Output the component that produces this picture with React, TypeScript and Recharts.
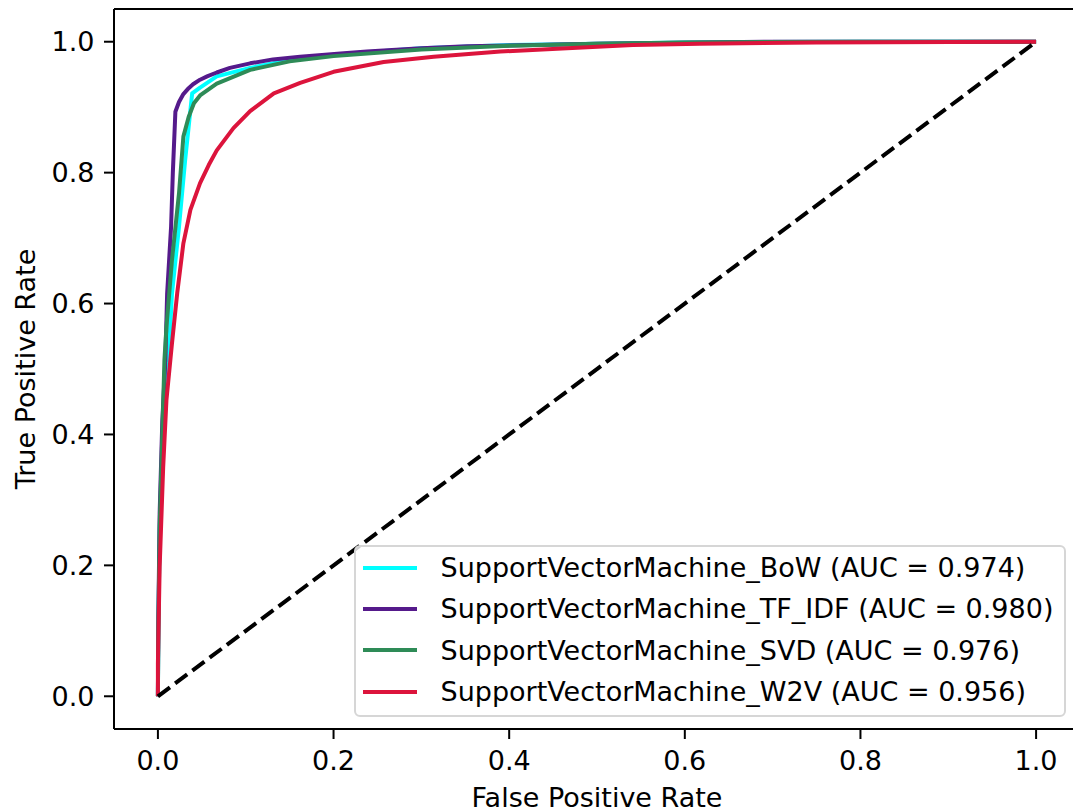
import { LineChart, Line, XAxis, YAxis, Legend, ReferenceLine } from 'recharts';

// ROC points (false positive rate, true positive rate) per model
const bowFpr = [0, 0.0005, 0.002, 0.005, 0.009, 0.012, 0.016, 0.024, 0.031, 0.039, 0.048, 0.067, 0.105, 0.15, 0.2, 0.3, 0.4, 0.5, 0.6, 0.8, 1];
const bowTpr = [0, 0.1, 0.25, 0.38, 0.47, 0.51, 0.615, 0.717, 0.819, 0.921, 0.93, 0.947, 0.96, 0.972, 0.98, 0.99, 0.995, 0.997, 0.999, 1, 1];

const tfidfFpr = [0, 0.0005, 0.002, 0.005, 0.0085, 0.0105, 0.015, 0.017, 0.0199, 0.024, 0.029, 0.035, 0.04, 0.048, 0.056, 0.067, 0.082, 0.105, 0.131, 0.162, 0.208, 0.238, 0.3, 0.352, 0.5, 0.7, 1];
const tfidfTpr = [0, 0.12, 0.28, 0.42, 0.513, 0.615, 0.717, 0.8, 0.893, 0.908, 0.92, 0.929, 0.935, 0.942, 0.947, 0.953, 0.96, 0.967, 0.973, 0.977, 0.982, 0.985, 0.99, 0.993, 0.997, 1, 1];

const svdFpr = [0, 0.0005, 0.002, 0.005, 0.0074, 0.0097, 0.016, 0.024, 0.029, 0.035, 0.041, 0.048, 0.067, 0.105, 0.15, 0.2, 0.3, 0.4, 0.5, 0.6, 0.8, 1];
const svdTpr = [0, 0.1, 0.26, 0.4, 0.513, 0.564, 0.666, 0.768, 0.855, 0.885, 0.906, 0.918, 0.936, 0.957, 0.97, 0.978, 0.988, 0.994, 0.997, 0.999, 1, 1];

const w2vFpr = [0, 0, 0.002, 0.006, 0.0097, 0.016, 0.022, 0.029, 0.037, 0.048, 0.058, 0.067, 0.086, 0.105, 0.132, 0.162, 0.2, 0.257, 0.314, 0.39, 0.466, 0.541, 0.617, 0.75, 1];
const w2vTpr = [0, 0.05, 0.198, 0.35, 0.452, 0.539, 0.616, 0.692, 0.743, 0.784, 0.812, 0.834, 0.868, 0.894, 0.921, 0.937, 0.954, 0.969, 0.977, 0.985, 0.99, 0.995, 0.997, 0.999, 1];

const chanceFpr = [0, 1];
const chanceTpr = [0, 1];

const ticks = [0, 0.2, 0.4, 0.6, 0.8, 1];

const toPoints = (fpr: number[], tpr: number[]) => fpr.map((x, i) => ({ fpr: x, tpr: tpr[i] }));

const series = [
  { name: 'SupportVectorMachine_BoW (AUC = 0.974)', color: '#00ffff', data: toPoints(bowFpr, bowTpr) },
  { name: 'SupportVectorMachine_TF_IDF (AUC = 0.980)', color: '#551a8b', data: toPoints(tfidfFpr, tfidfTpr) },
  { name: 'SupportVectorMachine_SVD (AUC = 0.976)', color: '#2e8b57', data: toPoints(svdFpr, svdTpr) },
  { name: 'SupportVectorMachine_W2V (AUC = 0.956)', color: '#dc143c', data: toPoints(w2vFpr, w2vTpr) },
];

const FONT = 'DejaVu Sans';
const tickStyle = { fontSize: 27, fill: '#000', fontFamily: FONT };

// keep legend rows in plotting order
const renderLegend = () => (
  <div
    style={{
      boxSizing: 'border-box',
      width: 712,
      height: 172,
      border: '2px solid #d6d6d6',
      borderRadius: 6,
      background: 'rgba(255,255,255,0.8)',
      paddingLeft: 7,
      fontFamily: FONT,
      fontSize: 27,
      color: '#000',
    }}
  >
    {series.map((s) => (
      <div key={s.name} style={{ display: 'flex', alignItems: 'center', height: 41.3, whiteSpace: 'nowrap' }}>
        <span style={{ display: 'inline-block', width: 54, height: 4, background: s.color, marginRight: 24 }} />
        <span>{s.name}</span>
      </div>
    ))}
  </div>
);

export default function App() {
  return (
    <div style={{ position: 'absolute', left: 0, top: 0, width: 1073, height: 812, overflow: 'hidden', background: '#fff', fontFamily: FONT }}>
      <LineChart width={1090} height={812} margin={{ top: 9, right: 10, bottom: 0, left: 0 }}>
        <XAxis
          dataKey="fpr"
          type="number"
          domain={[-0.05, 1.05]}
          ticks={ticks}
          allowDataOverflow
          tickFormatter={(v: number) => v.toFixed(1)}
          height={83}
          tickSize={10}
          tickMargin={12}
          tick={tickStyle}
          axisLine={{ stroke: '#000', strokeWidth: 2 }}
          tickLine={{ stroke: '#000', strokeWidth: 2 }}
          label={{ value: 'False Positive Rate', position: 'insideBottom', offset: 5, fontSize: 27, fill: '#000', fontFamily: FONT }}
        />
        <YAxis
          dataKey="tpr"
          type="number"
          domain={[-0.05, 1.05]}
          ticks={ticks}
          allowDataOverflow
          tickFormatter={(v: number) => v.toFixed(1)}
          width={114}
          tickSize={10}
          tickMargin={9.5}
          tick={tickStyle}
          axisLine={{ stroke: '#000', strokeWidth: 2 }}
          tickLine={{ stroke: '#000', strokeWidth: 2 }}
          label={{
            value: 'True Positive Rate',
            angle: -90,
            position: 'insideLeft',
            offset: 25,
            fontSize: 27,
            fill: '#000',
            fontFamily: FONT,
            style: { textAnchor: 'middle' },
          }}
        />
        {/* top and right spines */}
        <ReferenceLine y={1.05} stroke="#000" strokeWidth={2} />
        <ReferenceLine x={1.05} stroke="#000" strokeWidth={2} />
        {series.map((s) => (
          <Line
            key={s.name}
            data={s.data}
            dataKey="tpr"
            name={s.name}
            type="linear"
            stroke={s.color}
            strokeWidth={4}
            strokeLinejoin="round"
            dot={false}
            activeDot={false}
            isAnimationActive={false}
          />
        ))}
        <Line
          data={toPoints(chanceFpr, chanceTpr)}
          dataKey="tpr"
          name="chance"
          type="linear"
          stroke="#000"
          strokeWidth={4}
          strokeDasharray="15 6.5"
          dot={false}
          activeDot={false}
          legendType="none"
          isAnimationActive={false}
        />
        <Legend
          layout="vertical"
          align="center"
          verticalAlign="middle"
          content={renderLegend}
          wrapperStyle={{ position: 'absolute', left: 353.5, top: 545, width: 712, height: 172 }}
        />
      </LineChart>
    </div>
  );
}
